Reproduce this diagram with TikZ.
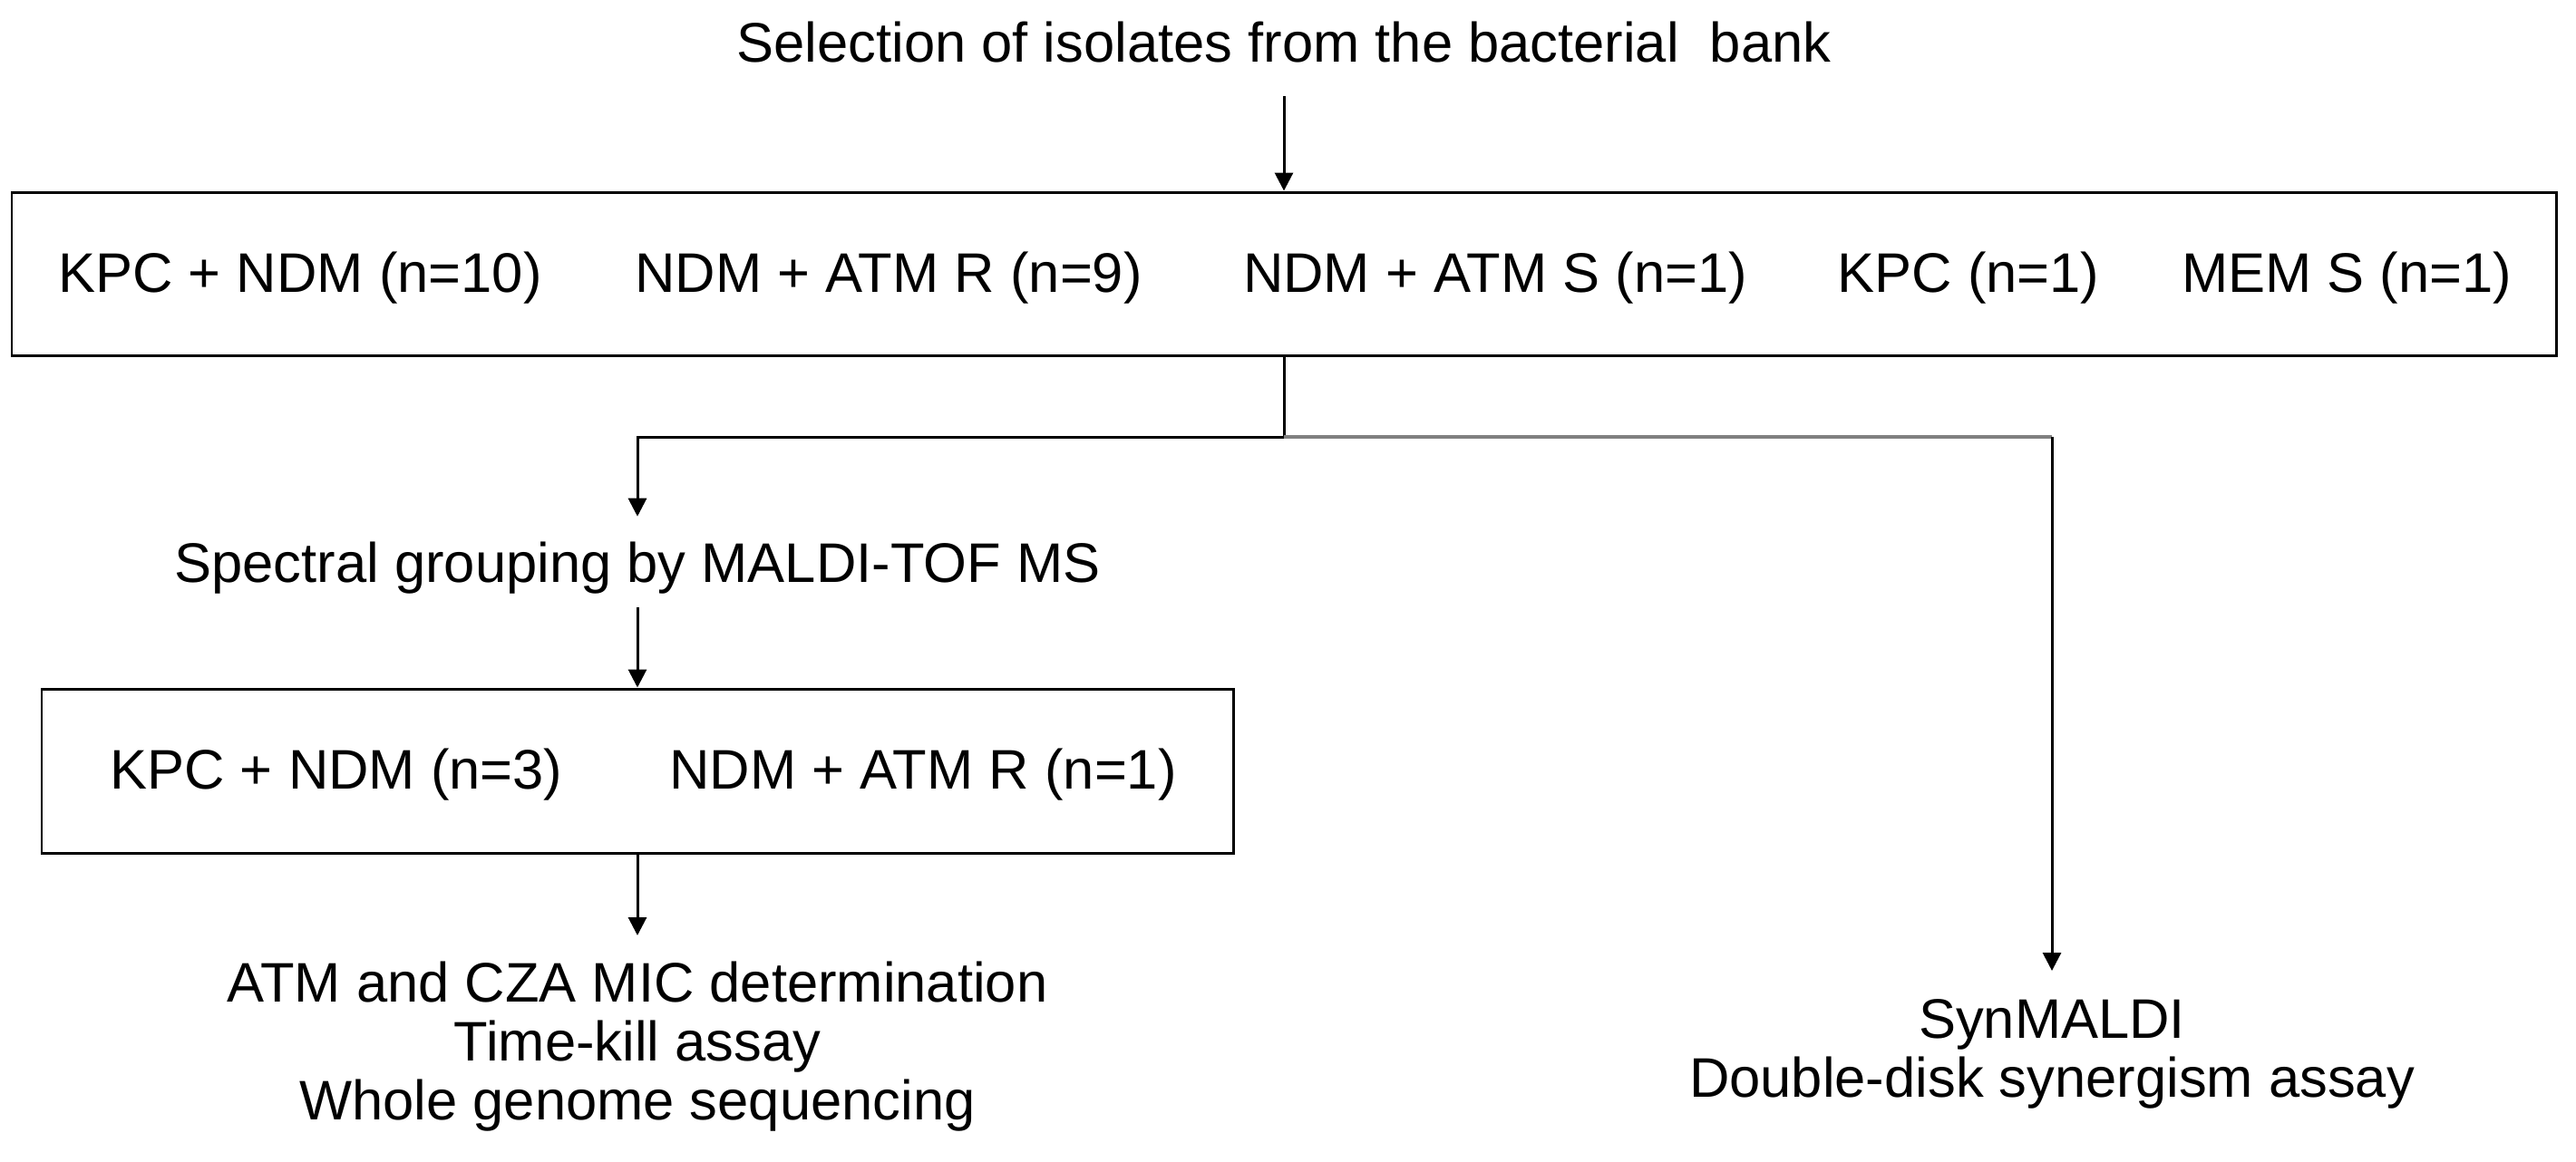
\documentclass[tikz,border=0pt]{standalone}
\usepackage{fontspec}
\setmainfont{Liberation Sans}
\usetikzlibrary{arrows.meta, positioning}

\begin{document}
\begin{tikzpicture}[
    txt/.style={inner sep=0pt, anchor=base, font=\fontsize{17.5}{18.5}\selectfont},
    stack/.style={inner sep=0pt, anchor=north, align=center, font=\fontsize{17.5}{18.5}\selectfont},
    frame/.style={draw, line width=0.85pt, inner sep=0pt},
    link/.style={line width=0.85pt, -{Triangle[length=0.2cm, width=0.2cm]}},
    plain/.style={line width=0.85pt},
  ]
  \useasboundingbox (0,0) rectangle (28.41,-12.81);

  % Selection
  \node[txt] (title) at (14.16,-0.68) {Selection of isolates from the bacterial\ \ bank};

  % Isolates box
  \node[frame, minimum width=28.06cm, minimum height=1.80cm] (bank) at (14.16,-3.02) {};
  \node[txt] (kpcndm) at (3.31,-3.22) {KPC + NDM (n=10)};
  \node[txt] (ndmr) at (9.80,-3.22) {NDM + ATM R (n=9)};
  \node[txt] (ndms) at (16.49,-3.22) {NDM + ATM S (n=1)};
  \node[txt] (kpc) at (21.71,-3.22) {KPC (n=1)};
  \node[txt] (mems) at (25.88,-3.22) {MEM S (n=1)};

  % Left branch
  \node[txt] (spectral) at (7.03,-6.42) {Spectral grouping by MALDI-TOF MS};
  \node[frame, minimum width=13.14cm, minimum height=1.81cm] (groups) at (7.03,-8.505) {};
  \node[txt] (kpcndm2) at (3.71,-8.70) {KPC + NDM (n=3)};
  \node[txt] (ndmr2) at (10.18,-8.70) {NDM + ATM R (n=1)};
  \node[stack] (tests) at (7.03,-10.60) {ATM and CZA MIC determination\\Time-kill assay\\Whole genome sequencing};

  % Right branch
  \node[stack] (synergy) at (22.63,-11.02) {SynMALDI\\Double-disk synergism assay};

  \coordinate (split) at (14.16,-4.82);
  \coordinate (turn) at (synergy.north |- split);

  % Connectors
  \draw[link, shorten <=0.37cm] (title) -- (bank);
  \draw[plain] (bank.south) -- (split);
  \draw[link, shorten >=0.27cm] (split) -| (spectral.north);
  \draw[link, shorten <=0.15cm] (spectral) -- (groups);
  \draw[link, shorten >=0.28cm] (groups) -- (tests);
  \draw[plain, line width=1.1pt, gray] (split) -- (turn);
  \draw[link, shorten >=0.31cm] (turn) -- (synergy);
\end{tikzpicture}
\end{document}
